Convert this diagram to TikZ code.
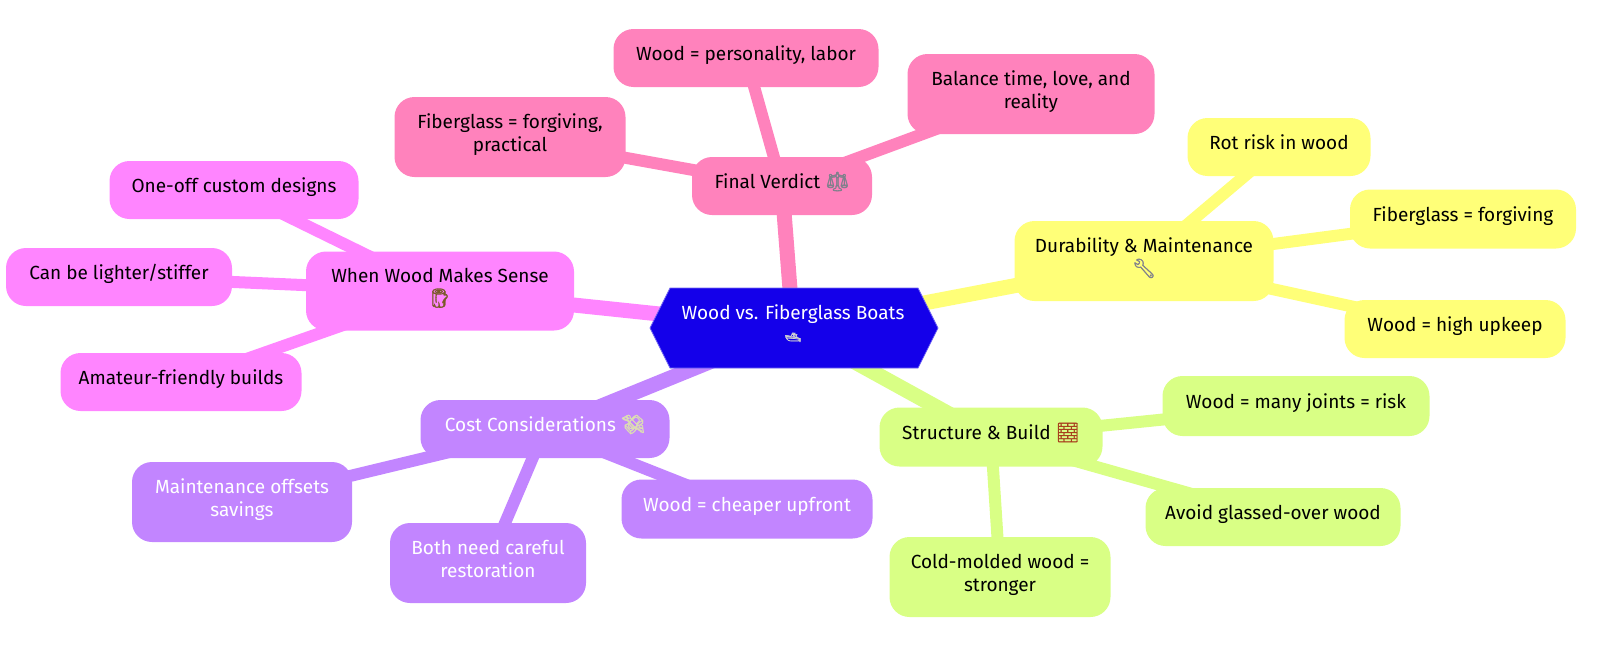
\documentclass[tikz,border=0pt]{standalone}
\usepackage{fontspec}
\setmainfont{Fira Sans}
\newfontfamily\emojifont[FakeBold=1.5]{Noto Emoji}
\usetikzlibrary{calc}
\pgfdeclarelayer{bg}
\pgfsetlayers{bg,main}
\definecolor{rootc}{HTML}{1400EA}
\definecolor{pinkc}{HTML}{FF82BC}
\definecolor{yellowc}{HTML}{FFFF78}
\definecolor{limec}{HTML}{D9FF85}
\definecolor{purplec}{HTML}{C285FF}
\definecolor{magentac}{HTML}{FF85FF}
\definecolor{logc}{HTML}{7A5A28}
\definecolor{brickc}{HTML}{A8401E}
\definecolor{steelc}{HTML}{80808C}
\definecolor{moneyc}{HTML}{DCDCB4}
\newcommand{\emo}[2]{{\emojifont\color{#1}#2}}
\tikzset{
  base/.style={align=center,inner sep=0pt,rounded corners=20pt,font=\fontsize{19}{23}\selectfont,text=black},
  one/.style={text height=14pt,text depth=10pt},
  two/.style={text depth=9pt},
  pinkbox/.style={base,fill=pinkc},
  yellowbox/.style={base,fill=yellowc},
  limebox/.style={base,fill=limec},
  purplebox/.style={base,fill=purplec,text=white},
  magentabox/.style={base,fill=magentac},
  sz/.style 2 args={minimum width=#1pt,minimum height=#2pt},
  trunk/.style={line width=15pt},
  twig/.style={line width=12pt}
}
\begin{document}
\begin{tikzpicture}[x=1pt,y=-1pt]
\useasboundingbox (0,0) rectangle (1600,656);
% root
\coordinate (rc) at (793,328);
\fill[rootc,draw=rootc!60!white,line width=0.7pt] (650,328) -- (670,288) -- (918,288) -- (938,328) -- (918,368) -- (670,368) -- cycle;
\node[base,two,text=white] (root) at (rc) {Wood vs. Fiberglass Boats\\[-1pt]\emo{gray!35}{\fontsize{13}{14}\selectfont 🛥}};
% final verdict
\node[pinkbox,one,sz={180}{58}] (fv) at (782,186) {Final Verdict \emo{steelc}{⚖}};
\node[pinkbox,one,sz={265}{58}] (fv1) at (746,58) {Wood = personality, labor};
\node[pinkbox,two,sz={247}{80}] (fv2) at (1031,94) {Balance time, love, and\\reality};
\node[pinkbox,two,sz={231}{80}] (fv3) at (510,137) {Fiberglass = forgiving,\\practical};
% durability
\node[yellowbox,two,sz={259}{80}] (du) at (1144,261) {Durability \& Maintenance\\[-1pt]\emo{steelc}{🔧}};
\node[yellowbox,one,sz={183}{58}] (du1) at (1279,147) {Rot risk in wood};
\node[yellowbox,one,sz={226}{59}] (du2) at (1463,219) {Fiberglass = forgiving};
\node[yellowbox,one,sz={221}{58}] (du3) at (1455,329) {Wood = high upkeep};
% structure
\node[limebox,one,sz={223}{59}] (st) at (991,437) {Structure \& Build \emo{brickc}{🧱}};
\node[limebox,one,sz={267}{60}] (st1) at (1296,406) {Wood = many joints = risk};
\node[limebox,one,sz={255}{58}] (st2) at (1273,517) {Avoid glassed-over wood};
\node[limebox,two,sz={221}{80}] (st3) at (1000,577) {Cold-molded wood =\\stronger};
% cost
\node[purplebox,one,sz={249}{58}] (co) at (545,429) {Cost Considerations \emo{moneyc}{💸}};
\node[purplebox,one,sz={251}{59}] (co1) at (747,509) {Wood = cheaper upfront};
\node[purplebox,two,sz={196}{80}] (co2) at (488,563) {Both need careful\\restoration};
\node[purplebox,two,sz={220}{80}] (co3) at (242,502) {Maintenance offsets\\savings};
% when wood
\node[magentabox,two,sz={268}{79}] (wh) at (440,291) {When Wood Makes Sense\\[-1pt]\emo{logc}{🪵}};
\node[magentabox,one,sz={249}{58}] (wh1) at (234,190) {One-off custom designs};
\node[magentabox,one,sz={226}{58}] (wh2) at (119,277) {Can be lighter/stiffer};
\node[magentabox,one,sz={241}{58}] (wh3) at (181,382) {Amateur-friendly builds};
\begin{pgfonlayer}{bg}
\draw[trunk,pinkc] (rc) -- (fv.center);
\draw[trunk,yellowc] (rc) -- (du.center);
\draw[trunk,limec] (rc) -- (st.center);
\draw[trunk,purplec] (rc) -- (co.center);
\draw[trunk,magentac] (rc) -- (wh.center);
\foreach \a/\b in {fv/fv1,fv/fv2,fv/fv3}{\draw[twig,pinkc] (\a.center) -- (\b.center);}
\foreach \a/\b in {du/du1,du/du2,du/du3}{\draw[twig,yellowc] (\a.center) -- (\b.center);}
\foreach \a/\b in {st/st1,st/st2,st/st3}{\draw[twig,limec] (\a.center) -- (\b.center);}
\foreach \a/\b in {co/co1,co/co2,co/co3}{\draw[twig,purplec] (\a.center) -- (\b.center);}
\foreach \a/\b in {wh/wh1,wh/wh2,wh/wh3}{\draw[twig,magentac] (\a.center) -- (\b.center);}
\end{pgfonlayer}
\end{tikzpicture}
\end{document}
